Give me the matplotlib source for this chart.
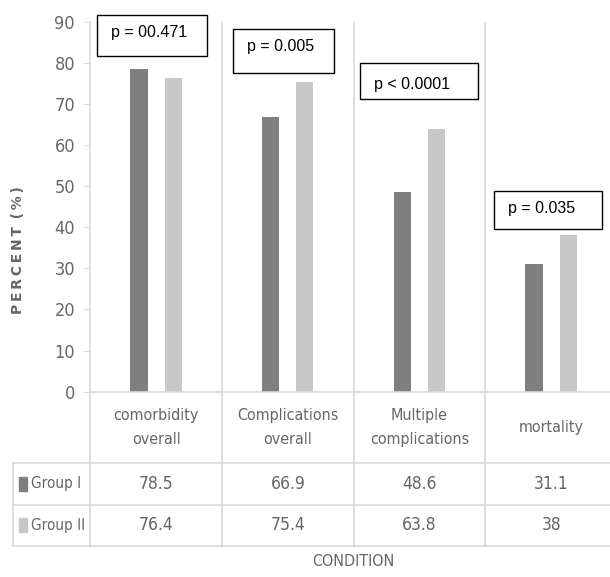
import matplotlib.pyplot as plt
from matplotlib.patches import Rectangle
from matplotlib.lines import Line2D
import numpy as np

# data
categories = ["comorbidity\noverall", "Complications\noverall", "Multiple\ncomplications", "mortality"]
groups = ["Group I", "Group II"]
group1 = [78.5, 66.9, 48.6, 31.1]
group2 = [76.4, 75.4, 63.8, 38]
group1_txt = ["78.5", "66.9", "48.6", "31.1"]
group2_txt = ["76.4", "75.4", "63.8", "38"]
pvalues = ["p = 00.471", "p = 0.005", "p < 0.0001", "p = 0.035"]

W, H = 610, 577
dark = "#7f7f7f"
light = "#c8c8c8"
grid = "#d9d9d9"
txt = "#666666"
cond = dict(family="DejaVu Sans", fontstretch="condensed", color=txt)

fig = plt.figure(figsize=(W / 100, H / 100), dpi=100)

# main chart area (pixel layout of the reference)
x0, x1 = 90.3, 617.0
y0, y90 = 391.7, 21.7
ax = fig.add_axes([x0 / W, 1 - y0 / H, (x1 - x0) / W, (y0 - y90) / H])
ax.set_xlim(0, 4)
ax.set_ylim(0, 90)

xpos = np.arange(len(categories)) + 0.5
bw = 0.13
ax.bar(xpos - 0.13, group1, bw, color=dark)
ax.bar(xpos + 0.13, group2, bw, color=light)

for xv in [1, 2, 3]:
    ax.axvline(xv, color=grid, lw=1.2)

for s in ["top", "right"]:
    ax.spines[s].set_visible(False)
ax.spines["left"].set_color(grid)
ax.spines["bottom"].set_color(grid)
ax.spines["left"].set_linewidth(1.2)
ax.spines["bottom"].set_linewidth(1.2)
ax.set_xticks([])
ax.set_yticks(range(0, 100, 10))
ax.tick_params(axis="y", length=4, color=grid, labelcolor=txt, pad=7, labelsize=13)
for lab in ax.get_yticklabels():
    lab.set_family("DejaVu Sans")
    lab.set_fontstretch("condensed")

# data table below the chart, y in pixels
tab = fig.add_axes([x0 / W, 0, (x1 - x0) / W, 1 - y0 / H])
tab.set_xlim(0, 4)
tab.set_ylim(H, y0)
tab.axis("off")
cw = (x1 - x0) / 4
left = (12.7 - x0) / cw
r1, r2, r3 = 462.7, 505.0, 545.7

for xv in [0, 1, 2, 3]:
    tab.add_line(Line2D([xv, xv], [y0, r3], color=grid, lw=1.2, clip_on=False))
tab.add_line(Line2D([left, left], [r1, r3], color=grid, lw=1.2, clip_on=False))
for yv in [r1, r2, r3]:
    tab.add_line(Line2D([left, 4], [yv, yv], color=grid, lw=1.2, clip_on=False))

for i, c in enumerate(categories):
    tab.text(xpos[i], (y0 + r1) / 2, c, ha="center", va="center",
             fontsize=11.5, linespacing=1.75, clip_on=False, **cond)
    tab.text(xpos[i], (r1 + r2) / 2, group1_txt[i], ha="center", va="center",
             fontsize=12.5, **cond)
    tab.text(xpos[i], (r2 + r3) / 2, group2_txt[i], ha="center", va="center",
             fontsize=12.5, **cond)

for (ra, rb), g, col in zip([(r1, r2), (r2, r3)], groups, [dark, light]):
    ym = (ra + rb) / 2
    tab.add_patch(Rectangle(((19.3 - x0) / cw, ym - 7), 7.4 / cw, 14, color=col, clip_on=False))
    tab.text((31 - x0) / cw, ym, g, ha="left", va="center",
             fontsize=11, clip_on=False, **cond)

tab.text(2.0, 562, "CONDITION", ha="center", va="center", fontsize=11.5, **cond)

# y label
fig.text(18 / W, 1 - 250 / H, "P\u2009E\u2009R\u2009C\u2009E\u2009N\u2009T\u2009 (\u2009%\u2009)",
         rotation=90, ha="center", va="center", color=txt, fontsize=10,
         fontweight="bold", family=["DejaVu Sans"])

# p-value boxes (left, top, right, bottom, text y) in pixels
boxes = [(97, 15, 207, 56, 32), (233, 29, 334, 73, 47),
         (360, 63, 478, 99, 84), (494, 191, 602, 229, 208)]
for (bl, bt, br, bb, ty), p in zip(boxes, pvalues):
    fig.add_artist(Rectangle((bl / W, 1 - bb / H), (br - bl) / W, (bb - bt) / H,
                             transform=fig.transFigure, facecolor="white",
                             edgecolor="black", lw=1.0))
    fig.text((bl + 14) / W, 1 - ty / H, p, ha="left", va="center",
             fontsize=11.5, family=["Liberation Sans", "DejaVu Sans"], color="black")

fig.savefig("out.png", dpi=100)
